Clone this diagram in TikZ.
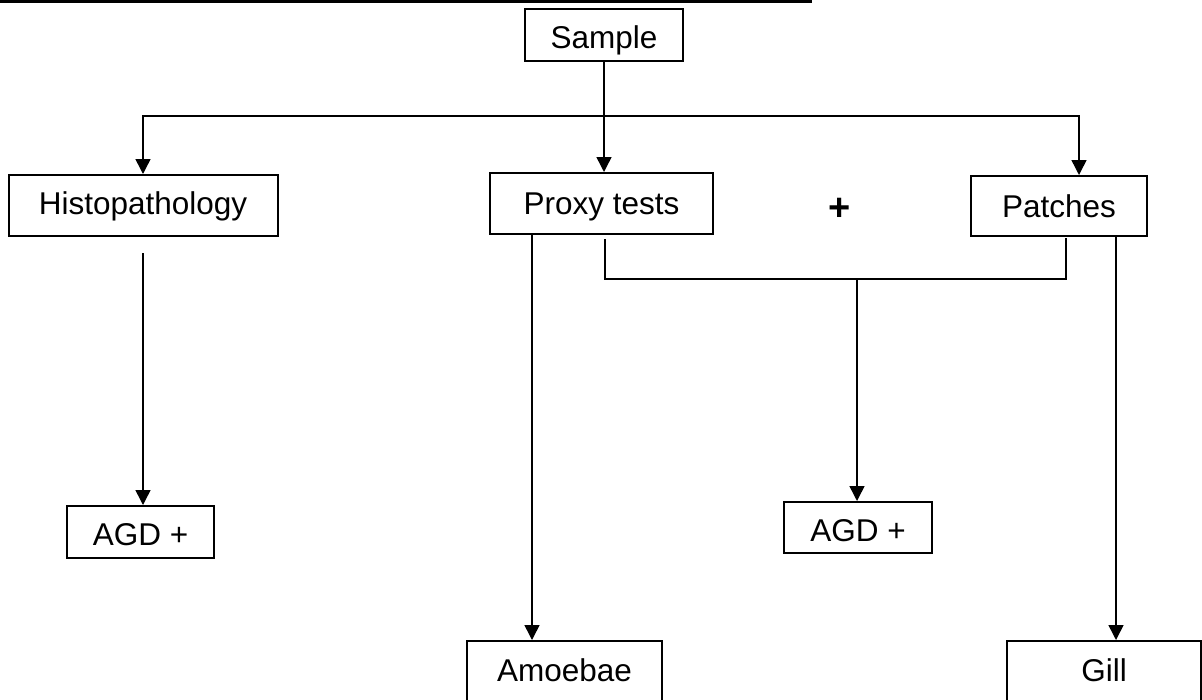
\documentclass[tikz,border=0pt]{standalone}
\usepackage{fontspec}
\setmainfont{Liberation Sans}
\usetikzlibrary{arrows.meta,calc}
\begin{document}
\begin{tikzpicture}[x=1pt,y=-1pt,
  lbl/.style={font=\fontsize{31.5}{36}\selectfont},
  box/.style={lbl, draw, line width=2pt, inner sep=0pt, text height=22.5pt, text depth=0pt},
  conn/.style={line width=1.5pt},
  arr/.style={conn, -{Triangle[length=15pt,width=15pt]}}]
\useasboundingbox (0,0) rectangle (1202,699);
\clip (0,0) rectangle (1202,699);
% top rule
\draw[line width=3pt] (0,1.5) -- (812,1.5);
% nodes
\node[box, minimum width=158pt, minimum height=52pt, text height=27.5pt] (sample) at (604,35) {Sample};
\node[box, minimum width=269pt, minimum height=61pt, text depth=3.6pt] (histo) at (143,205.5) {Histopathology};
\node[box, minimum width=223pt, minimum height=61pt] (proxy) at (601.5,203.5) {Proxy tests};
\node[box, minimum width=176pt, minimum height=60pt] (patches) at (1059,206) {Patches};
\node[inner sep=0pt, font=\fontsize{38}{44}\selectfont\bfseries] (plus) at (840,209) {+};
\node[box, minimum width=147pt, minimum height=52pt, text height=27.5pt] (agd1) at (140.5,532) {AGD +};
\node[box, minimum width=148pt, minimum height=51pt, text height=27.5pt] (agd2) at (858,527.5) {AGD +};
\node[box, minimum width=195pt, minimum height=62pt, text depth=4pt] (amoebae) at (564.5,672) {Amoebae};
\node[box, minimum width=194pt, minimum height=62pt, text depth=4pt] (gill) at (1104,672) {Gill};
% helper coordinates
\coordinate (j1) at (604,116);
\coordinate (xp) at (1079,0);
\coordinate (h1) at (143,253);
\coordinate (xa) at (532,0);
\coordinate (xg) at (1116,0);
\coordinate (p1) at (605,239);
\coordinate (p2) at (1066,238);
\coordinate (j2) at (857,279);
% connectors
\draw[conn] (sample.south) -- (j1);
\draw[arr] (j1) -| (histo.north);
\draw[arr] (j1) -- (j1 |- proxy.north);
\draw[arr] (j1) -| (patches.north -| xp);
\draw[arr] (h1) -- (h1 |- agd1.north);
\draw[arr] (proxy.south -| xa) -- (amoebae.north -| xa);
\draw[arr] (patches.south -| xg) -- (gill.north -| xg);
\draw[conn] (p1) |- (j2) -| (p2);
\draw[arr] (j2) -- (j2 |- agd2.north);
\end{tikzpicture}
\end{document}
